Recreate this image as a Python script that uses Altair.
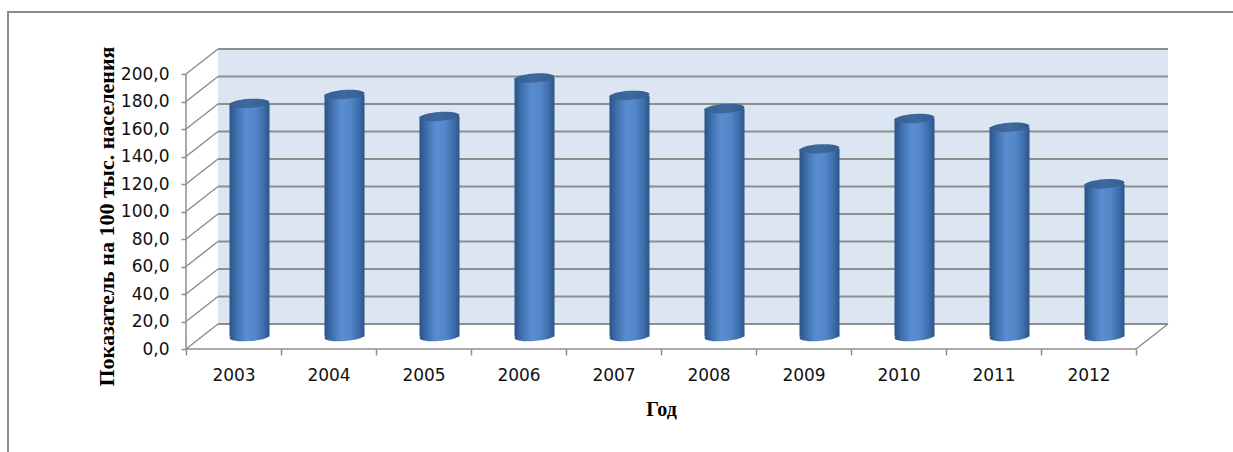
import altair as alt
import pandas as pd

# ---- data ----
years = ["2003", "2004", "2005", "2006", "2007", "2008", "2009", "2010", "2011", "2012"]
values = [169.5, 176.0, 160.0, 188.0, 175.3, 165.8, 136.4, 158.5, 152.2, 111.0]
y_ticks = [0, 20, 40, 60, 80, 100, 120, 140, 160, 180, 200]
y_title = "Показатель на 100 тыс. населения"
x_title = "Год"

# ---- pseudo-3D layout parameters ----
CAT_PX = 95          # width of one category on the front plane
DEPTH_X_PX = 32      # horizontal shift of the back wall
DEPTH_Y_PX = 25      # vertical shift of the back wall
PX_PER_UNIT = 1.375
N = len(years)
Y_MAX = y_ticks[-1]
DX = DEPTH_X_PX / CAT_PX
DY = DEPTH_Y_PX / PX_PER_UNIT
TOP = Y_MAX + DY
W = N * CAT_PX + DEPTH_X_PX
H = TOP * PX_PER_UNIT
BAR_PX = 40

xscale = alt.Scale(domain=[0, N + DX], nice=False, zero=False, padding=0)
yscale = alt.Scale(domain=[0, TOP], nice=False, zero=False, padding=0)

x_label_expr = "[" + ",".join("'%s'" % y for y in years) + ",''][datum.value]"

X_AXIS = alt.Axis(
    values=list(range(N + 1)), labelExpr=x_label_expr, labelOffset=CAT_PX / 2,
    tickSize=6, tickColor="#8c8c8c", tickWidth=1.5, domain=False, grid=False,
    labelFont="DejaVu Sans", labelFontSize=17, labelColor="#111111", labelPadding=12,
    labelOverlap=False, labelFlush=False, labelBound=False,
    title=x_title, titleFont="Liberation Serif", titleFontSize=20, titleFontWeight="bold",
    titleColor="#000000", titleX=(N * CAT_PX) / 2, titleY=60, titleAlign="center",
    titleBaseline="middle",
)
Y_AXIS = alt.Axis(
    values=y_ticks, labelExpr="replace(format(datum.value, '.1f'), '.', ',')",
    tickSize=5, tickColor="#8c8c8c", tickWidth=1.5, domain=False, grid=False,
    labelFont="DejaVu Sans", labelFontSize=17, labelColor="#111111", labelPadding=12,
    title=y_title, titleFont="Liberation Serif", titleFontSize=22, titleFontWeight="bold",
    titleColor="#000000", titleAngle=270, titleX=-80, titleY=167, titleAlign="center",
    titleBaseline="middle",
)

X = alt.X("x:Q", scale=xscale, axis=X_AXIS)
Y = alt.Y("y:Q", scale=yscale, axis=Y_AXIS)
X2 = alt.X2("x2:Q")
Y2 = alt.Y2("y2:Q")

GRID_COLOR = "#8e8e8e"

# back wall
wall_df = pd.DataFrame({"x": [DX], "x2": [N + DX], "y": [DY], "y2": [Y_MAX + DY]})
wall = alt.Chart(wall_df).mark_rect(color="#dce6f2").encode(x=X, x2=X2, y=Y, y2=Y2)

# back wall gridlines
back_df = pd.DataFrame({"x": [DX] * len(y_ticks), "x2": [N + DX] * len(y_ticks),
                        "y": [v + DY for v in y_ticks], "y2": [v + DY for v in y_ticks]})
back = alt.Chart(back_df).mark_rule(color=GRID_COLOR, strokeWidth=2).encode(x=X, x2=X2, y=Y, y2=Y2)

# side wall diagonals
side_df = pd.DataFrame({"x": [0] * len(y_ticks), "x2": [DX] * len(y_ticks),
                        "y": y_ticks, "y2": [v + DY for v in y_ticks]})
side = alt.Chart(side_df).mark_rule(color=GRID_COLOR, strokeWidth=1.5).encode(x=X, x2=X2, y=Y, y2=Y2)

# front edges: y axis line, floor front edge, floor right edge
edge_df = pd.DataFrame({"x": [0, 0, N], "x2": [0, N, N + DX],
                        "y": [0, 0, 0], "y2": [Y_MAX, 0, DY]})
edges = alt.Chart(edge_df).mark_rule(color=GRID_COLOR, strokeWidth=1.5).encode(x=X, x2=X2, y=Y, y2=Y2)

# cylinders
bars_df = pd.DataFrame({"year": years, "value": values})
bars_df["x"] = [i + 0.5 + DX / 2 for i in range(N)]
bars_df["y"] = bars_df["value"] + DY / 2
bars_df["y2"] = DY / 2
bottom_df = bars_df.copy()
bottom_df["y"] = DY / 2

body_grad = alt.Gradient(
    gradient="linear", x1=0, x2=1, y1=0, y2=0,
    stops=[
        alt.GradientStop(color="#2a5287", offset=0),
        alt.GradientStop(color="#3e70ae", offset=0.18),
        alt.GradientStop(color="#5a8ed0", offset=0.42),
        alt.GradientStop(color="#5286c8", offset=0.65),
        alt.GradientStop(color="#3d6dab", offset=0.86),
        alt.GradientStop(color="#2b5488", offset=1),
    ],
)
top_grad = alt.Gradient(
    gradient="linear", x1=0, x2=1, y1=0, y2=0,
    stops=[
        alt.GradientStop(color="#365f93", offset=0),
        alt.GradientStop(color="#3f6a9f", offset=0.5),
        alt.GradientStop(color="#345c8f", offset=1),
    ],
)
ELLIPSE = "M -1 0 A 1 0.23 0 1 1 1 0 A 1 0.23 0 1 1 -1 0 Z"
SIZE = BAR_PX * BAR_PX

bottom = alt.Chart(bottom_df).mark_point(
    shape=ELLIPSE, size=SIZE, filled=True, color=body_grad, opacity=1, strokeWidth=0, angle=356
).encode(x=X, y=Y)
body = alt.Chart(bars_df).mark_bar(size=BAR_PX, color=body_grad).encode(x=X, y=Y, y2=Y2)
topcap = alt.Chart(bars_df).mark_point(
    shape=ELLIPSE, size=SIZE, filled=True, color=top_grad, opacity=1, strokeWidth=0, angle=356
).encode(x=X, y=Y)

# outer frame of the chart
frame = alt.Chart(pd.DataFrame({"k": [0]})).mark_rect(
    fill="transparent", stroke="#8c8c8c", strokeWidth=2
).encode(x=alt.value(-178), x2=alt.value(1060), y=alt.value(-37), y2=alt.value(420))

chart = alt.layer(frame, wall, back, side, edges, bottom, body, topcap).properties(
    width=W, height=H,
    autosize=alt.AutoSizeParams(type="none"),
    padding={"left": 186, "top": 49, "right": 1233 - 186 - W, "bottom": 452 - 49 - int(H)},
    background="white",
).configure_view(stroke=None)

chart.save("out.html", embed_options={"renderer": "svg", "actions": False})
